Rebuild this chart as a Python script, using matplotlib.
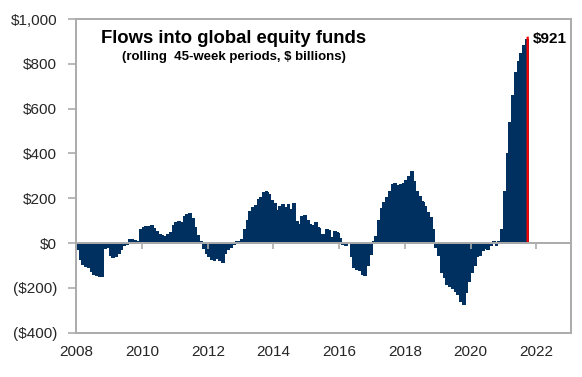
import matplotlib
matplotlib.use("Agg")
import matplotlib.pyplot as plt
import numpy as np

plt.rcParams['font.family'] = ['Liberation Sans', 'DejaVu Sans']

# ---- data: monthly readings of rolling 45-week flows ($ billions) ----
start_year = 2008
flows_2008 = [-30, -75, -95, -105, -110, -125, -140, -145, -150, -148, -25, -20]
flows_2009 = [-55, -65, -60, -45, -30, -10, -8, 15, 15, 12, 5, 60]
flows_2010 = [70, 75, 72, 78, 65, 50, 40, 35, 30, 40, 45, 80]
flows_2011 = [92, 95, 90, 120, 128, 130, 110, 70, 35, 8, -25, -45]
flows_2012 = [-60, -75, -80, -70, -80, -85, -45, -30, -20, -8, 5, 8]
flows_2013 = [15, 60, 100, 140, 160, 168, 195, 205, 225, 232, 215, 190]
flows_2014 = [175, 145, 165, 172, 160, 170, 150, 175, 95, 85, 120, 125]
flows_2015 = [100, 85, 78, 92, 70, 40, 38, 60, 55, 25, 52, 45]
flows_2016 = [20, -5, -10, 0, -60, -110, -120, -122, -140, -143, -100, -50]
flows_2017 = [5, 30, 100, 155, 180, 205, 230, 262, 265, 255, 262, 268]
flows_2018 = [280, 295, 320, 275, 230, 210, 185, 165, 135, 115, 60, -20]
flows_2019 = [-55, -130, -155, -185, -195, -202, -215, -230, -260, -275, -220, -170]
flows_2020 = [-130, -100, -60, -55, -35, -25, -30, -10, 5, -10, 5, 60]
flows_2021 = [230, 400, 540, 660, 760, 810, 845, 880, 910]

latest_year = 2021.74
latest_value = 921
latest_label = "$921"

title = "Flows into global equity funds"
subtitle = "(rolling  45-week periods, $ billions)"

x_ticks = [2008, 2010, 2012, 2014, 2016, 2018, 2020, 2022]
y_ticks = [-400, -200, 0, 200, 400, 600, 800, 1000]
y_tick_labels = ["($400)", "($200)", "$0", "$200", "$400", "$600", "$800", "$1,000"]

# ---- assemble ----
values = (flows_2008 + flows_2009 + flows_2010 + flows_2011 + flows_2012 +
          flows_2013 + flows_2014 + flows_2015 + flows_2016 + flows_2017 +
          flows_2018 + flows_2019 + flows_2020 + flows_2021)
x = start_year + (np.arange(len(values)) + 0.5) / 12.0

navy = '#00305f'
frame = '#ababab'
txt = '#262626'

fig = plt.figure(figsize=(5.82, 3.77), dpi=100)
ax = fig.add_axes([0.1313, 0.1175, 0.8493, 0.8321])

ax.bar(x, values, width=1/12, color=navy, linewidth=0,
       antialiased=False, snap=False, zorder=2)
ax.bar(latest_year, latest_value, width=0.07, color='#ff0000', linewidth=0,
       snap=False, zorder=3)

ax.set_xlim(2008, 2023.05)
ax.set_ylim(-400, 1000)

for s in ax.spines.values():
    s.set_color(frame)
    s.set_linewidth(1.4)

ax.set_yticks(y_ticks)
ax.set_yticklabels(y_tick_labels)
ax.tick_params(axis='y', direction='out', length=6, width=1.2, color=frame,
               labelsize=11, labelcolor=txt, pad=8)

ax.set_xticks(x_ticks)
ax.set_xticklabels([str(t) for t in x_ticks])
ax.tick_params(axis='x', length=0, labelsize=11, labelcolor=txt, pad=9)

# zero axis line with downward ticks
zero_frac = (0 - (-400)) / 1400
sec = ax.secondary_xaxis(zero_frac)
sec.set_xticks(x_ticks)
sec.set_xticklabels([])
sec.tick_params(axis='x', direction='out', length=4, width=1.2, color=frame)
sec.spines['bottom'].set_color(frame)
sec.spines['bottom'].set_linewidth(1.4)
sec.set_zorder(4)

ax.text(0.317, 0.939, title, transform=ax.transAxes, ha='center', va='center',
        fontsize=13.3, fontweight='bold', color='black')
ax.text(0.319, 0.879, subtitle, transform=ax.transAxes, ha='center', va='center',
        fontsize=9.5, fontweight='bold', color='black')

ax.annotate(latest_label, xy=(latest_year, latest_value), xytext=(4, -2),
            textcoords='offset points', ha='left', va='center',
            fontsize=11, fontweight='bold', color='black')

fig.savefig('out.png', dpi=100)
